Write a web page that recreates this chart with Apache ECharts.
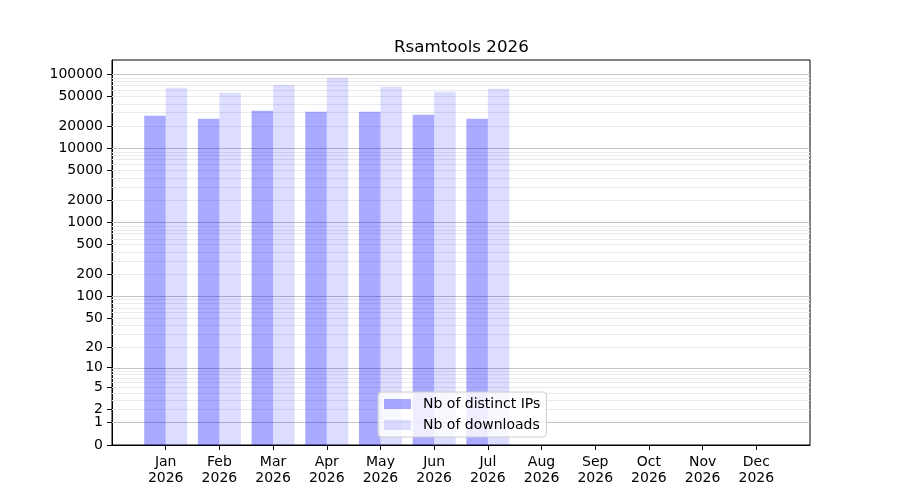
<!DOCTYPE html>
<html>
<head>
<meta charset="utf-8">
<script src="https://cdn.jsdelivr.net/npm/echarts@6/dist/echarts.min.js"></script>
<style>
  html, body { margin: 0; padding: 0; background: #fff; }
  #chart { width: 900px; height: 500px; }
</style>
</head>
<body>
<div id="chart"></div>
<script>
/* data */
var months = ['Jan', 'Feb', 'Mar', 'Apr', 'May', 'Jun', 'Jul', 'Aug', 'Sep', 'Oct', 'Nov', 'Dec'];
var year = '2026';
var distinctIPs = [27400, 25000, 32000, 31000, 31000, 28300, 25000, null, null, null, null, null];
var downloads = [65300, 56000, 71800, 89100, 67400, 57700, 63400, null, null, null, null, null];
var tickValues = [0, 1, 2, 5, 10, 20, 50, 100, 200, 500, 1000, 2000, 5000, 10000, 20000, 50000, 100000];
var majorGrid = [1, 10, 100, 1000, 10000, 100000];
var minorSteps = [2, 3, 4, 5, 6, 7, 8, 9];

// y = log10(v + 1)
function tr(v) { return v == null ? null : Math.log10(v + 1); }

var font = 'DejaVu Sans';
var cats = [''].concat(months.map(function (m) { return m + '\n' + year; })).concat(['']);

function padded(arr) {
    return [null].concat(arr.map(tr)).concat([null]);
}

var minorGrid = [];
majorGrid.forEach(function (d) {
    if (d >= 100000) return;
    minorSteps.forEach(function (s) { minorGrid.push(d * s); });
});

function gridLines(vals, color) {
    return vals.map(function (v) {
        return { yAxis: tr(v), lineStyle: { color: color, width: 1, type: 'solid' } };
    });
}

var chart = echarts.init(document.getElementById('chart'));

var option = {
    animation: false,
    backgroundColor: '#fff',
    title: {
        text: 'Rsamtools 2026',
        left: 389,
        top: 34,
        textStyle: { fontFamily: font, fontSize: 16.7, fontWeight: 'normal', color: '#000' }
    },
    legend: {
        orient: 'vertical',
        left: 378,
        top: 392,
        z: 10,
        padding: [5, 6, 5, 6],
        itemGap: 7,
        itemWidth: 27,
        itemHeight: 10,
        icon: 'rect',
        backgroundColor: 'rgba(255,255,255,0.8)',
        borderColor: '#cccccc',
        borderWidth: 1,
        borderRadius: 3,
        textStyle: { fontFamily: font, fontSize: 14, color: '#000', padding: [0, 0, 0, 7] },
        data: ['Nb of distinct IPs', 'Nb of downloads']
    },
    grid: {
        left: 112, right: 90, top: 60, bottom: 55,
        show: true, borderColor: '#000', borderWidth: 1, backgroundColor: 'transparent',
        containLabel: false
    },
    xAxis: {
        type: 'category',
        data: cats,
        boundaryGap: false,
        axisLine: { lineStyle: { color: '#000', width: 1 } },
        axisTick: {
            show: true, inside: false, length: 5,
            lineStyle: { color: '#000' },
            interval: function (i) { return i > 0 && i <= months.length; }
        },
        axisLabel: {
            interval: 0, margin: 9, color: '#000',
            fontFamily: font, fontSize: 14, lineHeight: 16
        },
        splitLine: { show: false }
    },
    yAxis: {
        type: 'value',
        min: 0,
        max: 5.19,
        axisLine: { show: true, lineStyle: { color: '#000', width: 1 } },
        axisTick: {
            show: true, inside: false, length: 5,
            lineStyle: { color: '#000' },
            customValues: tickValues.map(tr)
        },
        axisLabel: {
            margin: 9, color: '#000', fontFamily: font, fontSize: 14,
            customValues: tickValues.map(tr),
            formatter: function (v) { return String(Math.round(Math.pow(10, v) - 1)); }
        },
        splitLine: { show: false }
    },
    series: [
        {
            name: 'grid',
            type: 'line',
            data: cats.map(function () { return null; }),
            z: 1,
            silent: true,
            symbol: 'none',
            markLine: {
                z: 1,
                silent: true,
                symbol: ['none', 'none'],
                label: { show: false },
                data: gridLines(minorGrid, '#ebebeb').concat(gridLines(majorGrid, '#c4c4c4'))
            }
        },
        {
            name: 'Nb of distinct IPs',
            type: 'bar',
            data: padded(distinctIPs),
            barWidth: 21.5,
            barGap: '0%',
            z: 3,
            itemStyle: { color: 'rgba(0,0,255,0.333)' }
        },
        {
            name: 'Nb of downloads',
            type: 'bar',
            data: padded(downloads),
            barWidth: 21.5,
            barGap: '0%',
            z: 3,
            itemStyle: { color: 'rgba(0,0,255,0.135)' }
        }
    ]
};

chart.setOption(option);
</script>
</body>
</html>
